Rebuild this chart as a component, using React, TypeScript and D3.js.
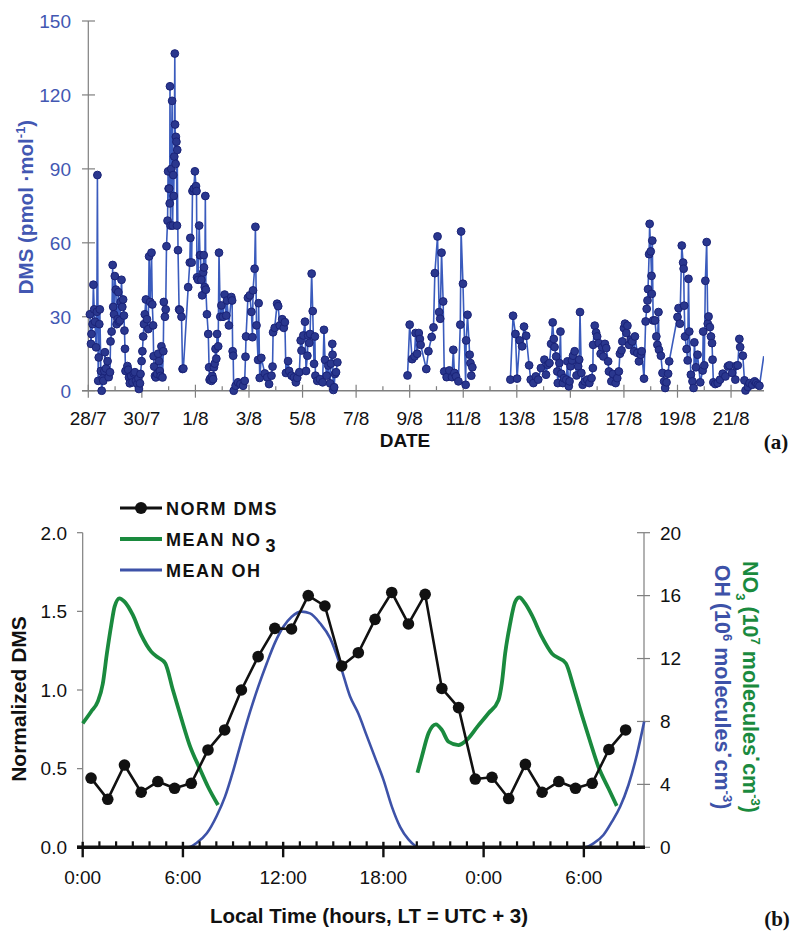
import React from 'react';
import * as d3 from 'd3';

// ---------- (a) DMS time series: [day since 28/7 00:00, pmol/mol] ----------
const dmsSeg1: [number, number][] = [
  [0.06, 31], [0.10, 19], [0.12, 23], [0.16, 27], [0.19, 43], [0.22, 33], [0.25, 28], [0.29, 17.6],
  [0.32, 32], [0.34, 87.5], [0.37, 4], [0.39, 13.5], [0.41, 27], [0.43, 33], [0.47, 8], [0.50, 0],
  [0.54, 5], [0.56, 4], [0.60, 8], [0.62, 15.6], [0.66, 9], [0.72, 12], [0.76, 5.5], [0.81, 7.5],
  [0.83, 20], [0.87, 24], [0.91, 51], [0.93, 34], [0.96, 31], [0.99, 46.5], [1.03, 41], [1.06, 27],
  [1.09, 29], [1.12, 40], [1.15, 28], [1.18, 28.5], [1.21, 36], [1.24, 45], [1.27, 34], [1.30, 37],
  [1.33, 30.5], [1.35, 24.4], [1.37, 17], [1.39, 8], [1.46, 10], [1.49, 8.5], [1.52, 5.4], [1.55, 3],
  [1.60, 6], [1.65, 3.4], [1.70, 7], [1.74, 7.5], [1.78, 4], [1.83, 2.7], [1.87, 5], [1.89, 0.7],
  [1.93, 3], [1.95, 6.8], [1.99, 12], [2.02, 16], [2.05, 22], [2.08, 27], [2.11, 31], [2.15, 37],
  [2.19, 29], [2.24, 25], [2.27, 54.5], [2.31, 36], [2.36, 56], [2.39, 35], [2.42, 26.5], [2.44, 14],
  [2.46, 9.8], [2.49, 6], [2.52, 5.4], [2.57, 6.8], [2.61, 15], [2.64, 12], [2.67, 8], [2.70, 6],
  [2.73, 18], [2.77, 5.4], [2.80, 16], [2.82, 36], [2.86, 30], [2.89, 33], [2.92, 58.6], [2.96, 69],
  [2.98, 89], [3.00, 82], [3.02, 82], [3.04, 76], [3.05, 123.5], [3.07, 67], [3.10, 90], [3.13, 117.6],
  [3.15, 67], [3.17, 87.5], [3.19, 79], [3.21, 95], [3.23, 136.8], [3.24, 108], [3.26, 92], [3.27, 103],
  [3.29, 101], [3.31, 67], [3.32, 97.7], [3.35, 57], [3.39, 33], [3.42, 32.6], [3.48, 30], [3.52, 8.8],
  [3.55, 9], [3.73, 42], [3.79, 52], [3.81, 62], [3.86, 52], [3.89, 81], [3.94, 82], [3.98, 89],
  [4.02, 83], [4.04, 81], [4.06, 46], [4.10, 45], [4.14, 67], [4.17, 55], [4.19, 55], [4.22, 45],
  [4.25, 38.7], [4.29, 48], [4.31, 55], [4.32, 50], [4.35, 42], [4.37, 79], [4.39, 41], [4.43, 31],
  [4.48, 23], [4.51, 9.5], [4.53, 4.4], [4.56, 5], [4.60, 4], [4.63, 6], [4.66, 4.7], [4.69, 9.5],
  [4.72, 11], [4.75, 17], [4.78, 13], [4.81, 23], [4.85, 18], [4.88, 56], [4.93, 30], [4.97, 34.6],
  [5.03, 30], [5.09, 39], [5.15, 30.5], [5.18, 36.6], [5.25, 26.5], [5.34, 38], [5.37, 36.6], [5.39, 16],
  [5.41, 14.2], [5.43, 0], [5.50, 2], [5.59, 3.4], [5.68, 2.7], [5.78, 2], [5.84, 4], [5.87, 13.8],
  [5.89, 22], [5.96, 37.7], [6.03, 38.7], [6.09, 32], [6.13, 21.7], [6.15, 40.7], [6.21, 49.5], [6.24, 66.5],
  [6.28, 26.5], [6.34, 12.5], [6.36, 35.5], [6.40, 5.2], [6.46, 13.3], [6.59, 7], [6.68, 5.4], [6.75, 2.7],
  [6.84, 6.1], [6.88, 9.8], [6.90, 23.7], [6.96, 25.5], [7.05, 35.3], [7.09, 34.3], [7.15, 26.5], [7.24, 29],
  [7.30, 25.5], [7.34, 27.8], [7.38, 7.2], [7.46, 12], [7.50, 8], [7.59, 6.1], [7.68, 5.4], [7.75, 3.4],
  [7.80, 5.2], [7.88, 7.5], [7.93, 20.4], [7.96, 16.3], [8.03, 22.4], [8.09, 28], [8.13, 8], [8.18, 14.2],
  [8.21, 22.4], [8.25, 19.4], [8.28, 23], [8.34, 47.5], [8.38, 32.3], [8.43, 10.9], [8.46, 22], [8.48, 6.1],
  [8.55, 4], [8.65, 4.7], [8.75, 3.4], [8.80, 24.7], [8.84, 12.5], [8.90, 6.1], [8.96, 10.2], [9.03, 3],
  [9.06, 11], [9.11, 19], [9.12, 14.6], [9.15, 0.3], [9.18, 1.4], [9.21, 6.8], [9.25, 7.5], [9.30, 11.5],
];

const dmsSeg2: [number, number][] = [
  [11.92, 6.2], [12.0, 26.8], [12.09, 12.8], [12.18, 13.9], [12.22, 23.4], [12.28, 15], [12.34, 23.4],
  [12.38, 21], [12.41, 18.6], [12.62, 8.8], [12.70, 16], [12.82, 21.8], [12.89, 25.7], [12.94, 47.7],
  [13.04, 62.6], [13.10, 31.9], [13.14, 29.2], [13.19, 56], [13.25, 36.2], [13.29, 7.8], [13.38, 5.5],
  [13.48, 8.2], [13.58, 5.5], [13.63, 16.6], [13.67, 7.2], [13.73, 5.8], [13.82, 3.8], [13.89, 26.8],
  [13.92, 64.6], [13.99, 43.4], [14.09, 2.4], [14.11, 20.4], [14.16, 30.8], [14.24, 14.6], [14.27, 11.2],
  [14.30, 6.1], [14.34, 9.5],
];

const dmsSeg3: [number, number][] = [
  [15.76, 4.5], [15.86, 30.4], [15.95, 23], [16.01, 4.9], [16.11, 20.4], [16.20, 18], [16.27, 26],
  [16.35, 22.3], [16.46, 10.3], [16.52, 4.5], [16.62, 3.1], [16.71, 5.8], [16.80, 4.5], [16.90, 9.2],
  [17.03, 12.6], [17.09, 6.5], [17.15, 10.5], [17.22, 11.2], [17.28, 19], [17.34, 27.7], [17.38, 21],
  [17.41, 17.7], [17.47, 13.9], [17.51, 7.8], [17.53, 3.1], [17.59, 11.2], [17.63, 24], [17.66, 6.9],
  [17.72, 3.1], [17.76, 5.1], [17.85, 4.5], [17.89, 11.9], [17.94, 1.8], [17.97, 3.8], [18.01, 9.9],
  [18.06, 12.3], [18.10, 14.2], [18.16, 16], [18.23, 6.2], [18.29, 9.9], [18.33, 12.6], [18.36, 31.9],
  [18.41, 7.2], [18.46, 2.4], [18.54, 3.8], [18.63, 4.5], [18.71, 3.1], [18.79, 5.1], [18.84, 9.2],
  [18.85, 18.6], [18.91, 26.4], [18.96, 23.6], [19.0, 22], [19.06, 19.3], [19.13, 15], [19.19, 17.6],
  [19.23, 13.9], [19.29, 19], [19.34, 17.3], [19.41, 11.9], [19.44, 7.8], [19.53, 3.8], [19.59, 6.8],
  [19.69, 3.1], [19.75, 5.1], [19.81, 7.8], [19.85, 15], [19.91, 16.4], [19.94, 20], [20.0, 25.4],
  [20.04, 27.2], [20.09, 23.4], [20.13, 26.4], [20.19, 18.6], [20.25, 20.7], [20.31, 20], [20.38, 16],
  [20.41, 22], [20.5, 15.3], [20.56, 11.9], [20.63, 14.6], [20.66, 16], [20.75, 4.9], [20.81, 28.1],
  [20.85, 33.2], [20.88, 36.6], [20.9, 41.2], [20.94, 55.4], [20.96, 67.7], [21.0, 56.5], [21.03, 46.6],
  [21.04, 39.3], [21.06, 60.9], [21.09, 28.5], [21.16, 28.5], [21.21, 22], [21.25, 18.6], [21.29, 31.9],
  [21.31, 16.6], [21.38, 14.2], [21.44, 7.2], [21.5, 3.8], [21.54, 1.1], [21.59, 3.4], [21.65, 6.9],
  [21.69, 11.9], [22.0, 29.9], [22.04, 33.5], [22.09, 27.2], [22.16, 58.9], [22.21, 52], [22.23, 49.5],
  [22.25, 34.5], [22.28, 22], [22.34, 16.9], [22.38, 12.3], [22.41, 45.4], [22.44, 24], [22.5, 6.5],
  [22.56, 3.8], [22.6, 1.1], [22.63, 19.6], [22.69, 9.5], [22.75, 14.6], [22.85, 3.4], [22.94, 8.2],
  [22.96, 24], [23.0, 10.3], [23.04, 44.6], [23.09, 60.3], [23.13, 27.2], [23.16, 30.1], [23.21, 25.8],
  [23.25, 22], [23.29, 19.3], [23.31, 12.6], [23.34, 3.4], [23.41, 2.7], [23.5, 3.1], [23.59, 4.5],
  [23.69, 6.9], [23.79, 5.8], [23.88, 9.9], [23.94, 10.3], [24.04, 7.2], [24.16, 4.5], [24.19, 10.1],
  [24.25, 10.3], [24.31, 21], [24.34, 17.7], [24.44, 14.2], [24.5, 4.2], [24.54, 0.1], [24.63, 1.5],
  [24.69, 3.1], [24.79, 2.4], [24.88, 3.8], [24.94, 3.1], [25.0, 2.4], [25.06, 2.0], [25.22, 14],
];

const dateTickLabels = ['28/7', '30/7', '1/8', '3/8', '5/8', '7/8', '9/8', '11/8', '13/8', '15/8', '17/8', '19/8', '21/8'];
const dmsYTicks = [0, 30, 60, 90, 120, 150];

// ---------- (b) diurnal cycle ----------
const normHours = [0.5, 1.5, 2.5, 3.5, 4.5, 5.5, 6.5, 7.5, 8.5, 9.5, 10.5, 11.5, 12.5, 13.5, 14.5, 15.5, 16.5,
  17.5, 18.5, 19.5, 20.5, 21.5, 22.5, 23.5, 24.5, 25.5, 26.5, 27.5, 28.5, 29.5, 30.5, 31.5, 32.5];
const normDms = [0.44, 0.305, 0.523, 0.35, 0.418, 0.375, 0.407, 0.619, 0.746, 1.0, 1.212, 1.392, 1.388, 1.6,
  1.534, 1.153, 1.237, 1.449, 1.62, 1.42, 1.608, 1.01, 0.888, 0.434, 0.445, 0.31, 0.527, 0.35, 0.418, 0.375,
  0.407, 0.622, 0.746];

const no3Seg1: [number, number][] = [
  [0, 7.88], [0.5, 8.62], [0.9, 9.26], [1.2, 10.38], [1.45, 12.33], [1.71, 14.13], [1.91, 15.3], [2.2, 15.83],
  [2.5, 15.62], [3.0, 14.77], [3.5, 13.5], [4.1, 12.44], [4.5, 12.08], [4.94, 11.7], [5.4, 10.0], [5.9, 8.2],
  [6.4, 6.5], [7.0, 5.02], [7.5, 3.85], [8.1, 2.69],
];
const no3Seg2: [number, number][] = [
  [20.04, 4.74], [20.3, 5.76], [20.7, 7.25], [21.14, 7.82], [21.5, 7.46], [21.9, 6.71], [22.49, 6.5],
  [22.99, 6.82], [23.63, 7.67], [24.29, 8.52], [24.89, 9.36], [25.09, 10.43], [25.29, 12.33], [25.59, 14.24],
  [25.89, 15.61], [26.14, 15.89], [26.48, 15.5], [26.88, 14.77], [27.48, 13.39], [28.08, 12.33], [28.92, 11.7],
  [29.38, 10.21], [29.88, 8.41], [30.38, 6.71], [30.87, 5.12], [31.47, 3.75], [31.97, 2.63],
];
const ohCurve: [number, number][] = [
  [3.53, 0], [6.33, 0], [6.83, 0.29], [7.43, 0.89], [8.02, 1.99], [8.52, 3.22], [9.02, 4.91], [9.52, 6.82],
  [10.02, 8.62], [10.51, 10.21], [11.02, 11.7], [11.51, 13.01], [12.01, 14.02], [12.51, 14.66], [13.11, 14.98],
  [13.61, 14.87], [14.21, 14.24], [14.81, 13.3], [15.41, 11.6], [16.0, 9.6], [16.5, 8.5], [17.0, 7.1],
  [17.5, 5.7], [18.0, 4.3], [18.5, 2.6], [19.0, 1.3], [19.5, 0.5], [19.9, 0.1], [20.1, 0], [30.08, 0],
  [30.58, 0.25], [31.17, 0.78], [31.68, 1.63], [32.17, 2.58], [32.67, 3.96], [33.17, 5.87], [33.61, 7.99],
];
const hourTickLabels = ['0:00', '6:00', '12:00', '18:00', '0:00', '6:00'];
const leftTicks = [0, 0.5, 1, 1.5, 2];
const rightTicks = [0, 4, 8, 12, 16, 20];

const F = "Arial, 'Liberation Sans', Helvetica, sans-serif";
const SERIF = "'Times New Roman', 'Liberation Serif', serif";
const AXIS_GRAY = '#7f7f7f';
const TOP_BLUE = '#4257b2';
const LINE_BLUE = '#3a5bbd';
const DOT_FILL = '#2a378e';
const DOT_STROKE = '#1a2378';
const GREEN = '#1a8a3e';
const OH_BLUE = '#3d52a8';

export default function App() {
  // ----- top chart scales -----
  const xT = d3.scaleLinear().domain([0, 25.23]).range([88.3, 764]);
  const yT = d3.scaleLinear().domain([0, 150]).range([390.7, 21]);
  const lineT = d3.line<[number, number]>().x(d => xT(d[0])).y(d => yT(d[1]));
  const segs = [dmsSeg1, dmsSeg2, dmsSeg3];
  const dayTicks = d3.range(0, 26, 1);

  // ----- bottom chart scales -----
  const xB = d3.scaleLinear().domain([0, 33.6]).range([82.7, 644]);
  const yL = d3.scaleLinear().domain([0, 2]).range([847.3, 532.7]);
  const yR = d3.scaleLinear().domain([0, 20]).range([847.3, 532.7]);
  const normPts: [number, number][] = normHours.map((h, i) => [h, normDms[i]]);
  const lineNorm = d3.line<[number, number]>().x(d => xB(d[0])).y(d => yL(d[1]));
  const lineR = d3.line<[number, number]>().x(d => xB(d[0])).y(d => yR(d[1])).curve(d3.curveMonotoneX);
  const hourTicks = d3.range(0, 34, 1);

  return (
    <svg width={792} height={931} style={{ position: 'absolute', left: 0, top: 0, background: '#fff' }}>
      <defs>
        <clipPath id="topclip">
          <rect x={80} y={0} width={684} height={400} />
        </clipPath>
      </defs>
      {/* ================= (a) ================= */}
      <line x1={88.3} x2={88.3} y1={yT(150)} y2={yT(0)} stroke={AXIS_GRAY} strokeWidth={1.2} />
      {dmsYTicks.map(v => (
        <g key={'yt' + v}>
          <line x1={82} x2={95} y1={yT(v)} y2={yT(v)} stroke={AXIS_GRAY} strokeWidth={1.2} />
          <text x={71} y={yT(v) + 6.8} textAnchor="end" fontFamily={F} fontSize={19} fill={TOP_BLUE}>{v}</text>
        </g>
      ))}
      <line x1={82} x2={764} y1={yT(0)} y2={yT(0)} stroke={AXIS_GRAY} strokeWidth={1.6} />
      {dayTicks.map(d => (
        d % 2 === 0
          ? <line key={'dt' + d} x1={xT(d)} x2={xT(d)} y1={yT(0) - 6} y2={yT(0) + 7} stroke={AXIS_GRAY} strokeWidth={1.2} />
          : <line key={'dt' + d} x1={xT(d)} x2={xT(d)} y1={yT(0) - 4.5} y2={yT(0)} stroke={AXIS_GRAY} strokeWidth={1.2} />
      ))}
      {dateTickLabels.map((lab, i) => (
        <text key={'dl' + i} x={xT(i * 2)} y={425} textAnchor="middle" fontFamily={F} fontSize={19} fill="#111">{lab}</text>
      ))}
      <text x={405} y={447} textAnchor="middle" fontFamily={F} fontSize={19} fontWeight="bold" fill="#111">DATE</text>
      <text x={776} y={449} textAnchor="middle" fontFamily={SERIF} fontSize={21} fontWeight="bold" fill="#111">(a)</text>
      <text transform={`translate(33,${207}) rotate(-90)`} textAnchor="middle" fontFamily={F} fontSize={20.5} fontWeight="bold" fill={TOP_BLUE}>
        DMS (pmol ·mol<tspan dy={-8} fontSize={13}>-1</tspan><tspan dy={8}>)</tspan>
      </text>
      <g clipPath="url(#topclip)">
        {segs.map((s, i) => (
          <path key={'sg' + i} d={lineT(s) || ''} fill="none" stroke={LINE_BLUE} strokeWidth={1.6} strokeLinejoin="round" />
        ))}
        {segs.map((s, i) => (s === dmsSeg3 ? s.slice(0, -1) : s).map((p, j) => (
          <circle key={`c${i}-${j}`} cx={xT(p[0])} cy={yT(p[1])} r={3.9} fill={DOT_FILL} stroke={DOT_STROKE} strokeWidth={1} />
        )))}
      </g>

      {/* ================= (b) ================= */}
      <line x1={82.7} x2={82.7} y1={yL(2)} y2={yL(0)} stroke={AXIS_GRAY} strokeWidth={1.2} />
      {leftTicks.map(v => (
        <g key={'lt' + v}>
          <line x1={77} x2={82.7} y1={yL(v)} y2={yL(v)} stroke={v === 0 ? '#111' : AXIS_GRAY} strokeWidth={v === 0 ? 3 : 1.2} />
          <text x={67} y={yL(v) + 6.8} textAnchor="end" fontFamily={F} fontSize={19} fill="#111">{v.toFixed(1)}</text>
        </g>
      ))}
      <line x1={644} x2={644} y1={yR(20)} y2={yR(0)} stroke={AXIS_GRAY} strokeWidth={1.2} />
      {rightTicks.map(v => (
        <g key={'rt' + v}>
          <line x1={637} x2={650} y1={yR(v)} y2={yR(v)} stroke={AXIS_GRAY} strokeWidth={1.2} />
          <text x={660} y={yR(v) + 6.8} textAnchor="start" fontFamily={F} fontSize={19} fill="#111">{v}</text>
        </g>
      ))}
      <path d={lineR(ohCurve) || ''} fill="none" stroke={OH_BLUE} strokeWidth={2.6} />
      <path d={lineR(no3Seg1) || ''} fill="none" stroke={GREEN} strokeWidth={3.8} strokeLinejoin="round" />
      <path d={lineR(no3Seg2) || ''} fill="none" stroke={GREEN} strokeWidth={3.8} strokeLinejoin="round" />
      <path d={lineNorm(normPts) || ''} fill="none" stroke="#111" strokeWidth={2.6} strokeLinejoin="round" />
      {normPts.map((p, i) => (
        <circle key={'n' + i} cx={xB(p[0])} cy={yL(p[1])} r={5.8} fill="#111" />
      ))}
      <line x1={77} x2={645} y1={yL(0)} y2={yL(0)} stroke="#111" strokeWidth={3.5} />
      {hourTicks.map(h => (
        h % 6 === 0
          ? <line key={'ht' + h} x1={xB(h)} x2={xB(h)} y1={yL(0) - 5.5} y2={yL(0) + 10} stroke="#111" strokeWidth={2.4} />
          : <line key={'ht' + h} x1={xB(h)} x2={xB(h)} y1={yL(0) - 6} y2={yL(0)} stroke="#111" strokeWidth={2.2} />
      ))}
      {hourTickLabels.map((lab, i) => (
        <text key={'hl' + i} x={xB(i * 6)} y={884} textAnchor="middle" fontFamily={F} fontSize={19} fill="#111">{lab}</text>
      ))}
      <text x={369} y={923} textAnchor="middle" fontFamily={F} fontSize={20.5} fontWeight="bold" fill="#111">Local Time (hours, LT = UTC + 3)</text>
      <text transform={`translate(26,699) rotate(-90)`} textAnchor="middle" fontFamily={F} fontSize={21} fontWeight="bold" fill="#111">Normalized DMS</text>
      <text transform={`translate(743,687) rotate(90)`} textAnchor="middle" fontFamily={F} fontSize={21.5} fontWeight="bold" fill={GREEN}>
        NO<tspan dy={7} fontSize={13}>3</tspan><tspan dy={-7}> (10</tspan><tspan dy={-8} fontSize={13}>7</tspan><tspan dy={8}> molecules</tspan><tspan dy={-7}>·</tspan><tspan dy={7}>cm</tspan><tspan dy={-8} fontSize={13}>-3</tspan><tspan dy={8}>)</tspan>
      </text>
      <text transform={`translate(715,687) rotate(90)`} textAnchor="middle" fontFamily={F} fontSize={21.5} fontWeight="bold" fill={OH_BLUE}>
        OH (10<tspan dy={-8} fontSize={13}>6</tspan><tspan dy={8}> molecules</tspan><tspan dy={-7}>·</tspan><tspan dy={7}>cm</tspan><tspan dy={-8} fontSize={13}>-3</tspan><tspan dy={8}>)</tspan>
      </text>
      <text x={777} y={926} textAnchor="middle" fontFamily={SERIF} fontSize={21} fontWeight="bold" fill="#111">(b)</text>
      <line x1={120} x2={162} y1={508} y2={508} stroke="#111" strokeWidth={3} />
      <circle cx={141} cy={508} r={6} fill="#111" />
      <text x={166} y={515} fontFamily={F} fontSize={18} fontWeight="bold" letterSpacing={1.5} fill="#111">NORM DMS</text>
      <line x1={120} x2={162} y1={539} y2={539} stroke={GREEN} strokeWidth={4} />
      <text x={166} y={546} fontFamily={F} fontSize={18} fontWeight="bold" letterSpacing={1.5} fill="#111">MEAN NO<tspan dx={4} dy={6}>3</tspan></text>
      <line x1={120} x2={162} y1={570} y2={570} stroke={OH_BLUE} strokeWidth={3} />
      <text x={166} y={577} fontFamily={F} fontSize={18} fontWeight="bold" letterSpacing={1.5} fill="#111">MEAN OH</text>
    </svg>
  );
}
